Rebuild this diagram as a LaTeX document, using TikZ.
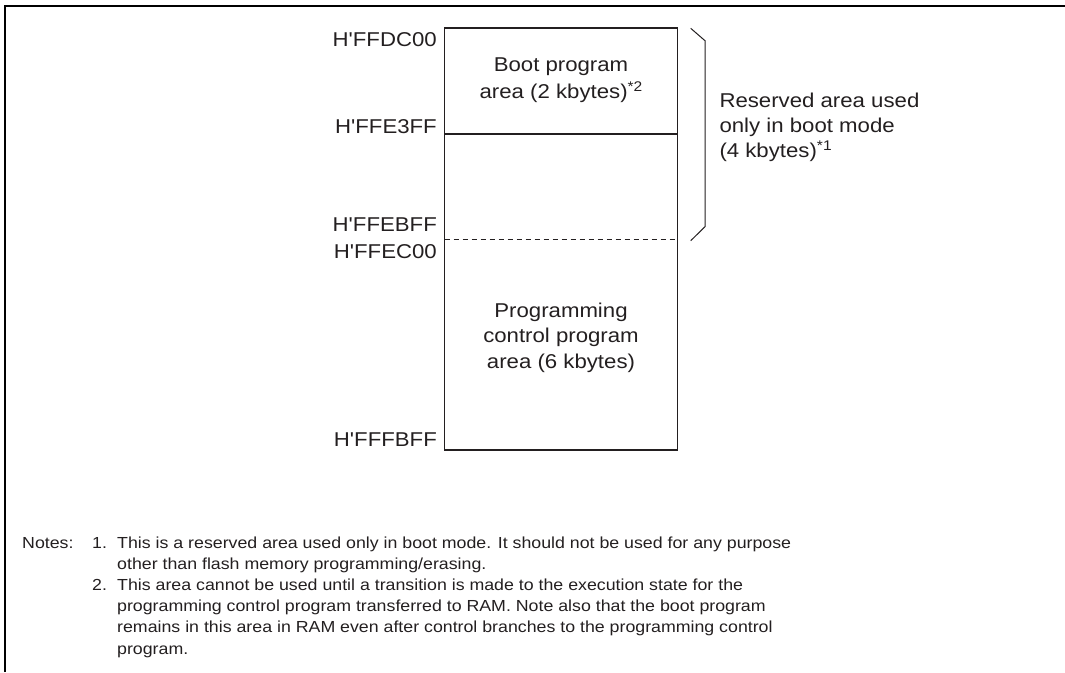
\documentclass[tikz,border=0pt]{standalone}
\usepackage{fontspec}
\setmainfont[FakeStretch=1.11, Ligatures=TeXOff]{Liberation Sans}
\definecolor{ink}{HTML}{231F20}
\begin{document}
\begin{tikzpicture}[x=1pt,y=-1pt,
  lbl/.style={font=\fontsize{20}{26}\selectfont, text=ink, inner sep=0pt},
  note/.style={font=\fontsize{16}{21}\selectfont, text=ink, inner sep=0pt, anchor=base west},
  mem/.style={draw=ink, line width=1.1pt}]
\useasboundingbox (0,0) rectangle (1065,672);
% frame
\draw[line width=2pt, black] (4.5,672) -- (4.5,5.5) -- (1065,5.5);
% memory box
\coordinate (tl) at (444.5,28);
\coordinate (br) at (677.5,450);
\coordinate (bl1) at (444.5,134);
\coordinate (br1) at (677.5,134);
\coordinate (bl2) at (444.5,239.5);
\coordinate (br2) at (677.5,239.5);
\draw[mem] (tl) rectangle (br);
\draw[mem] (bl1) -- (br1);
\draw[mem, line width=0.9pt, dash pattern=on 5pt off 4pt] (bl2) -- (br2);
% addresses
\node[lbl, anchor=base east] (a1) at (437,46) {H'FFDC00};
\node[lbl, anchor=base east] (a2) at (437,133) {H'FFE3FF};
\node[lbl, anchor=base east] (a3) at (437,231.5) {H'FFEBFF};
\node[lbl, anchor=base east] (a4) at (437,258.5) {H'FFEC00};
\node[lbl, anchor=base east] (a5) at (437,446) {H'FFFBFF};
% boot program area
\node[lbl, anchor=base] (b1) at (561,71.7) {Boot program};
\node[lbl, anchor=base] (b2) at (561,98.3) {area (2 kbytes)\raisebox{6.5pt}{\fontsize{14}{14}\selectfont *2}};
% programming control program area
\node[lbl, anchor=base] (p1) at (561,317.3) {Programming};
\node[lbl, anchor=base] (p2) at (561,342.7) {control program};
\node[lbl, anchor=base] (p3) at (561,368.3) {area (6 kbytes)};
% brace
\coordinate (k1) at (690.7,28.3);
\coordinate (k2) at (705,40.7);
\coordinate (k3) at (705,226.7);
\coordinate (k4) at (690.7,240.7);
\draw[draw=ink, line width=1pt] (k1) -- (k2) -- (k3) -- (k4);
% reserved label
\node[lbl, anchor=base west] (r1) at (719.3,107.3) {Reserved area used};
\node[lbl, anchor=base west] (r2) at (719.3,132.3) {only in boot mode};
\node[lbl, anchor=base west] (r3) at (719.3,157.3) {(4 kbytes)\raisebox{6.5pt}{\fontsize{14}{14}\selectfont *1}};
% notes
\node[note] (n0) at (22,548) {Notes:};
\node[note] (n1) at (92,548) {1.};
\node[note] (t1) at (117,548) {This is a reserved area used only in boot mode. It should not be used for any purpose};
\node[note] (t2) at (117,569.2) {other than flash memory programming/erasing.};
\node[note] (n2) at (92,590.4) {2.};
\node[note] (t3) at (117,590.4) {This area cannot be used until a transition is made to the execution state for the};
\node[note] (t4) at (117,611.6) {programming control program transferred to RAM. Note also that the boot program};
\node[note] (t5) at (117,632.8) {remains in this area in RAM even after control branches to the programming control};
\node[note] (t6) at (117,654) {program.};
\end{tikzpicture}
\end{document}
